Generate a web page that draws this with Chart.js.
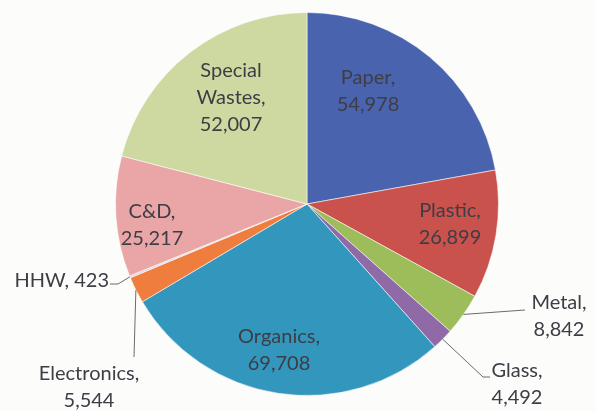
<!DOCTYPE html>
<html lang="en">
<head>
  <meta charset="UTF-8" />
  <title>Waste Composition</title>
  <script src="https://cdn.jsdelivr.net/npm/chart.js"></script>
  <style>
    html, body {
      margin: 0;
      padding: 0;
      background: #fcfcfa;
    }
    canvas {
      display: block;
    }
  </style>
</head>
<body>
  <canvas id="wasteChart" width="596" height="411"></canvas>

  <script>
    const categories = ['Paper', 'Plastic', 'Metal', 'Glass', 'Organics', 'Electronics', 'HHW', 'C&D', 'Special Wastes'];
    const tonnage = [54978, 26899, 8842, 4492, 69708, 5544, 423, 25217, 52007];
    const sliceColors = ['#4a63ae', '#c9524c', '#9dbd5a', '#8f6aa6', '#3396bd', '#ef7d3d', '#d9d9e6', '#eaa6a6', '#cdd9a0'];

    // where each label sits, measured from the pie centre (px)
    const labelLayout = {
      'Paper':          { dx: 61,   dy: -113 },
      'Plastic':        { dx: 143,  dy: 20 },
      'Metal':          { dx: 252,  dy: 112, leader: [[218, 106]] },
      'Glass':          { dx: 210,  dy: 180, leader: [[176, 173], [183, 173]] },
      'Organics':       { dx: -28,  dy: 146 },
      'Electronics':    { dx: -218, dy: 183, leader: [[-173, 153]] },
      'HHW':            { dx: -198, dy: 77, inline: true, align: 'right', leader: [[-189, 80], [-197, 80]] },
      'C&D':            { dx: -155, dy: 21 },
      'Special Wastes': { dx: -76,  dy: -106 }
    };

    const lineHeight = 27;

    function labelLines(name, value) {
      const num = value.toLocaleString('en-US');
      if (labelLayout[name].inline) return [name + ', ' + num];
      const words = name.split(' ');
      words[words.length - 1] += ',';
      return words.concat([num]);
    }

    const sliceLabels = {
      id: 'sliceLabels',
      afterDatasetsDraw(chart) {
        const ctx = chart.ctx;
        const meta = chart.getDatasetMeta(0);
        ctx.save();
        ctx.font = '20px Lato, "Open Sans", sans-serif';
        ctx.textBaseline = 'middle';
        meta.data.forEach((arc, i) => {
          const name = categories[i];
          const lay = labelLayout[name];
          const p = arc.getProps(['x', 'y', 'startAngle', 'endAngle', 'outerRadius'], true);
          const mid = (p.startAngle + p.endAngle) / 2;

          if (lay.leader) {
            ctx.strokeStyle = '#6a6a6a';
            ctx.lineWidth = 1;
            ctx.beginPath();
            ctx.moveTo(p.x + Math.cos(mid) * p.outerRadius, p.y + Math.sin(mid) * p.outerRadius);
            lay.leader.forEach(pt => ctx.lineTo(p.x + pt[0], p.y + pt[1]));
            ctx.stroke();
          }

          const lines = labelLines(name, tonnage[i]);
          ctx.fillStyle = '#3d3d45';
          ctx.textAlign = lay.align || 'center';
          lines.forEach((txt, k) => {
            const ty = p.y + lay.dy + (k - (lines.length - 1) / 2) * lineHeight;
            ctx.fillText(txt, p.x + lay.dx, ty);
          });
        });
        ctx.restore();
      }
    };

    new Chart(document.getElementById('wasteChart'), {
      type: 'pie',
      data: {
        labels: categories,
        datasets: [{
          data: tonnage,
          backgroundColor: sliceColors,
          borderColor: 'rgba(255,255,255,0.55)',
          borderWidth: 1
        }]
      },
      options: {
        responsive: false,
        animation: false,
        layout: {
          padding: { top: 12, bottom: 15, left: 18, right: 0 }
        },
        plugins: {
          legend: { display: false },
          tooltip: { enabled: false }
        }
      },
      plugins: [sliceLabels]
    });
  </script>
</body>
</html>
